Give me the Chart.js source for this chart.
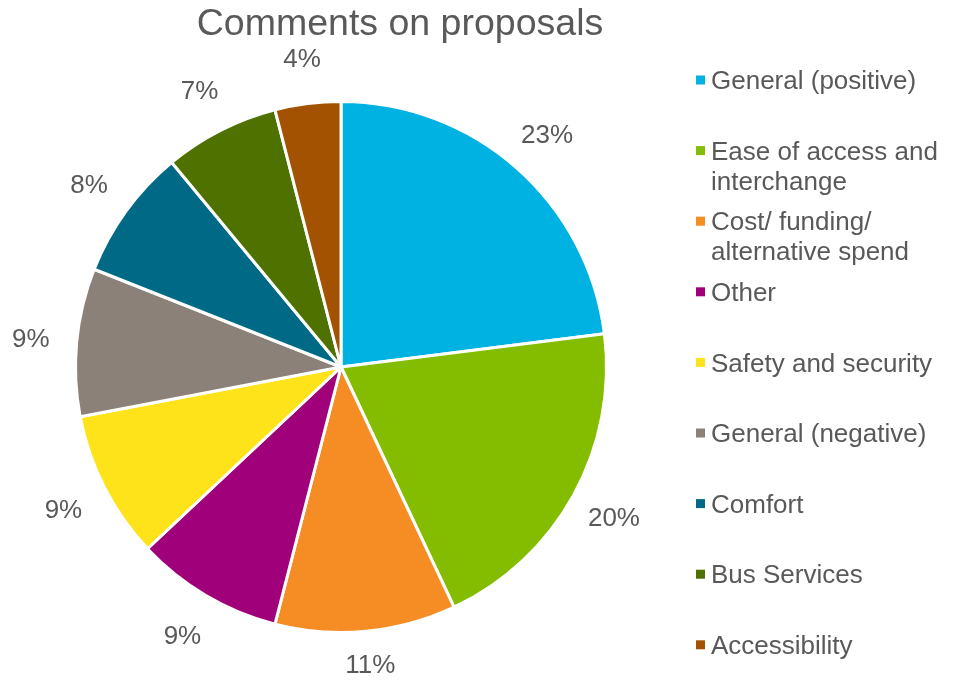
<!DOCTYPE html>
<html>
<head>
<meta charset="utf-8">
<title>Comments on proposals</title>
<script src="https://cdn.jsdelivr.net/npm/chart.js@4/dist/chart.umd.min.js"></script>
<style>
  html, body { margin: 0; padding: 0; background: #fff; }
  #wrap { width: 954px; height: 680px; }
</style>
</head>
<body>
<div id="wrap"><canvas id="pieComments" width="954" height="680"></canvas></div>
<script>
const categories = ['General (positive)', 'Ease of access and interchange', 'Cost/ funding/ alternative spend',
  'Other', 'Safety and security', 'General (negative)', 'Comfort', 'Bus Services', 'Accessibility'];
const shares = [23, 20, 11, 9, 9, 9, 8, 7, 4];
const colours = ['#00B2E2', '#84BD00', '#F68D24', '#A0007A', '#FFE31A', '#8B8178', '#006A86', '#4E7100', '#A25200'];
const chartTitle = 'Comments on proposals';

const FONT = 'Arial, "Liberation Sans", sans-serif';
const GREY = '#595959';

// split a legend label into lines that fit the space on the right
function wrapText(ctx, text, maxW) {
  const words = text.split(' ');
  const lines = [];
  let cur = '';
  words.forEach(w => {
    const test = cur ? cur + ' ' + w : w;
    if (cur && ctx.measureText(test).width > maxW) {
      lines.push(cur);
      cur = w;
    } else {
      cur = test;
    }
  });
  if (cur) lines.push(cur);
  return lines;
}

const decorations = {
  id: 'decorations',
  afterDraw(chart) {
    const ctx = chart.ctx;
    ctx.save();
    ctx.fillStyle = GREY;

    // title
    ctx.font = '37.5px ' + FONT;
    ctx.textAlign = 'center';
    ctx.textBaseline = 'middle';
    ctx.fillText(chartTitle, 400, 25);

    // percentage labels outside the slices
    ctx.font = '26px ' + FONT;
    const meta = chart.getDatasetMeta(0);
    meta.data.forEach((arc, i) => {
      const mid = (arc.startAngle + arc.endAngle) / 2;
      const r = arc.outerRadius + 46;
      const x = arc.x + Math.cos(mid) * r;
      let y = arc.y + Math.sin(mid) * r + 2;
      y = Math.min(y, chart.height - 14);
      ctx.fillText(shares[i] + '%', x, y);
    });

    // legend
    ctx.textAlign = 'left';
    categories.forEach((name, i) => {
      const y0 = 80 + i * 70.6;
      ctx.fillStyle = colours[i];
      ctx.fillRect(696, y0 - 4.5, 9, 9);
      ctx.fillStyle = GREY;
      wrapText(ctx, name, 236).forEach((line, j) => {
        ctx.fillText(line, 711, y0 + 2 + j * 30);
      });
    });
    ctx.restore();
  }
};

new Chart(document.getElementById('pieComments'), {
  type: 'pie',
  data: {
    labels: categories,
    datasets: [{
      data: shares,
      backgroundColor: colours,
      borderColor: '#ffffff',
      borderWidth: 3
    }]
  },
  options: {
    responsive: false,
    animation: false,
    layout: { padding: { left: 74, right: 346, top: 100, bottom: 46 } },
    plugins: {
      legend: { display: false },
      tooltip: { enabled: false }
    }
  },
  plugins: [decorations]
});
</script>
</body>
</html>
